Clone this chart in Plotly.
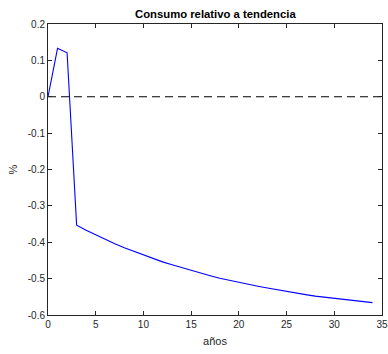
import plotly.graph_objects as go

years = list(range(35))
consumo = [0.000, 0.133, 0.121, -0.353, -0.367, -0.380, -0.392, -0.404, -0.415, -0.425,
           -0.435, -0.445, -0.454, -0.462, -0.470, -0.478, -0.485, -0.492, -0.499, -0.505,
           -0.511, -0.516, -0.521, -0.526, -0.531, -0.535, -0.540, -0.544, -0.548, -0.551,
           -0.554, -0.557, -0.560, -0.563, -0.566]
ref_x = [0, 35]
ref_y = [0, 0]

x_ticks = [0, 5, 10, 15, 20, 25, 30, 35]
y_ticks = [-0.6, -0.5, -0.4, -0.3, -0.2, -0.1, 0, 0.1, 0.2]
y_labels = ["-0.6", "-0.5", "-0.4", "-0.3", "-0.2", "-0.1", "0", "0.1", "0.2"]

FONT = "Liberation Sans, Arial, Helvetica, sans-serif"
AX = "#262626"

fig = go.Figure()
fig.add_trace(go.Scatter(x=ref_x, y=ref_y, mode="lines",
                         line=dict(color="black", width=1, dash="8px,5px"),
                         hoverinfo="skip"))
fig.add_trace(go.Scatter(x=years, y=consumo, mode="lines",
                         line=dict(color="#0000ff", width=1.1)))

axis_common = dict(showline=True, linecolor=AX, linewidth=1, mirror="ticks",
                   ticks="inside", ticklen=4, tickcolor=AX, tickwidth=1,
                   showgrid=False, zeroline=False, automargin=False,
                   tickfont=dict(family=FONT, size=10, color=AX))

fig.update_layout(
    width=388, height=354,
    margin=dict(l=48, r=6, t=24, b=39, autoexpand=False),
    paper_bgcolor="white", plot_bgcolor="white",
    showlegend=False,
    xaxis=dict(range=[0, 35], tickvals=x_ticks, **axis_common,
               title=dict(text="años", font=dict(family=FONT, size=11, color=AX), standoff=8)),
    yaxis=dict(range=[-0.6, 0.2], tickvals=y_ticks, ticktext=y_labels, **axis_common,
               title=dict(text="%", font=dict(family=FONT, size=11, color=AX), standoff=7)),
    annotations=[dict(text="<b>Consumo relativo a tendencia</b>", x=0.5, y=1,
                      xref="paper", yref="paper", xanchor="center", yanchor="bottom",
                      yshift=2, showarrow=False,
                      font=dict(family=FONT, size=11.3, color="black"))],
)

fig.write_html("out.html", config={"displayModeBar": False},
               post_script="document.body.style.margin='0';document.body.style.overflow='hidden';")
